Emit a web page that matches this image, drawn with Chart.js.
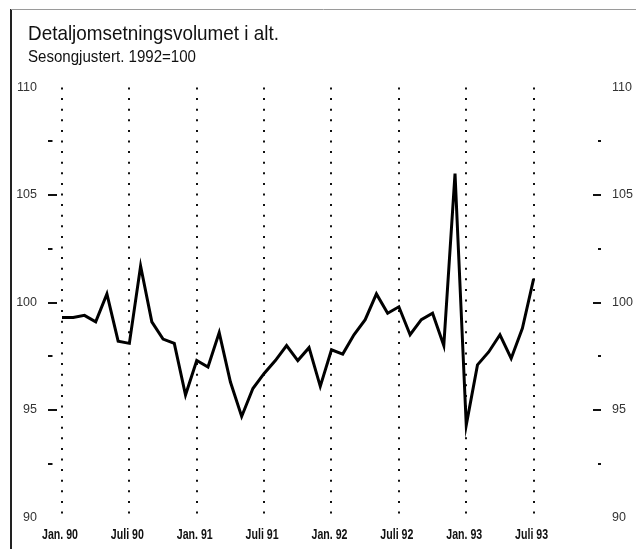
<!DOCTYPE html>
<html>
<head>
<meta charset="utf-8">
<script src="https://cdn.jsdelivr.net/npm/chart.js@4/dist/chart.umd.min.js"></script>
<style>
  html, body { margin: 0; padding: 0; background: #fff; }
  #wrap { width: 636px; height: 549px; position: relative; }
</style>
</head>
<body>
<div id="wrap"><canvas id="c" width="636" height="549"></canvas></div>
<script>
// ---- data ----
const titleText = "Detaljomsetningsvolumet i alt.";
const subtitleText = "Sesongjustert. 1992=100";

const months = [
  "Jan 90","Feb 90","Mar 90","Apr 90","Mai 90","Jun 90","Jul 90","Aug 90","Sep 90","Okt 90","Nov 90","Des 90",
  "Jan 91","Feb 91","Mar 91","Apr 91","Mai 91","Jun 91","Jul 91","Aug 91","Sep 91","Okt 91","Nov 91","Des 91",
  "Jan 92","Feb 92","Mar 92","Apr 92","Mai 92","Jun 92","Jul 92","Aug 92","Sep 92","Okt 92","Nov 92","Des 92",
  "Jan 93","Feb 93","Mar 93","Apr 93","Mai 93","Jun 93","Jul 93"
];
const volume = [
  99.3, 99.3, 99.4, 99.1, 100.4, 98.2, 98.1, 101.7, 99.1, 98.3, 98.1, 95.7,
  97.3, 97.0, 98.6, 96.3, 94.7, 96.0, 96.7, 97.3, 98.0, 97.3, 97.9, 96.1,
  97.8, 97.6, 98.5, 99.2, 100.4, 99.5, 99.8, 98.5, 99.2, 99.5, 98.0, 106.0,
  94.3, 97.1, 97.7, 98.5, 97.4, 98.8, 101.1
];
const xTickPositions = [0, 6, 12, 18, 24, 30, 36, 42];
const xTickLabels = ["Jan. 90","Juli 90","Jan. 91","Juli 91","Jan. 92","Juli 92","Jan. 93","Juli 93"];
const yTicks = [90, 95, 100, 105, 110];
const yMinorTicks = [92.5, 97.5, 102.5, 107.5];

const FONT = "'Liberation Sans', Arial, sans-serif";

const decorPlugin = {
  id: 'decor',
  afterDraw(chart) {
    const ctx = chart.ctx;
    const ca = chart.chartArea;
    const ys = chart.scales.y;
    const xs = chart.scales.x;
    ctx.save();
    // frame
    ctx.strokeStyle = '#222';
    ctx.lineWidth = 2;
    ctx.beginPath(); ctx.moveTo(11, 9); ctx.lineTo(11, 549); ctx.stroke();
    ctx.strokeStyle = '#9a9a9a';
    ctx.lineWidth = 1;
    ctx.beginPath(); ctx.moveTo(11, 9.5); ctx.lineTo(636, 9.5); ctx.stroke();
    // axis tick marks
    ctx.strokeStyle = '#111';
    ctx.lineWidth = 2;
    const all = yTicks.filter(v => v > 90 && v < 110).map(v => [v, true])
      .concat(yMinorTicks.map(v => [v, false]));
    all.forEach(([v, major]) => {
      const y = Math.round(ys.getPixelForValue(v));
      ctx.beginPath();
      ctx.moveTo(ca.left - 9, y);
      ctx.lineTo(major ? ca.left : ca.left - 4.5, y);
      ctx.stroke();
      ctx.beginPath();
      ctx.moveTo(major ? ca.right - 8 : ca.right - 3, y);
      ctx.lineTo(ca.right, y);
      ctx.stroke();
    });
    // condensed text helper
    ctx.fillStyle = '#111';
    const drawScaled = (txt, x, y, sx, align) => {
      const m = ctx.measureText(txt).width * sx;
      const x0 = align === 'center' ? x - m / 2 : x;
      ctx.save();
      ctx.translate(x0, y);
      ctx.scale(sx, 1);
      ctx.textAlign = 'left';
      ctx.fillText(txt, 0, 0);
      ctx.restore();
    };
    // titles
    ctx.textBaseline = 'alphabetic';
    ctx.font = "21px " + FONT;
    drawScaled(titleText, 28, 40, 251 / ctx.measureText(titleText).width, 'left');
    ctx.font = "16px " + FONT;
    drawScaled(subtitleText, 28, 62, 168 / ctx.measureText(subtitleText).width, 'left');
    // x tick labels (condensed bold)
    ctx.font = "bold 14px " + FONT;
    ctx.textBaseline = 'alphabetic';
    const sx = 36 / ctx.measureText(xTickLabels[0]).width;
    xTickPositions.forEach((p, k) => {
      drawScaled(xTickLabels[k], xs.getPixelForValue(p) - 2, 539, sx, 'center');
    });
    ctx.restore();
  }
};

new Chart(document.getElementById('c'), {
  type: 'line',
  data: {
    labels: months,
    datasets: [{
      data: volume.map((v, i) => ({ x: i, y: v })),
      borderColor: '#000',
      borderWidth: 3,
      pointRadius: 0,
      tension: 0,
      fill: false,
      borderJoinStyle: 'miter'
    }]
  },
  options: {
    responsive: false,
    animation: false,
    events: [],
    layout: { padding: { top: 87.5, left: 0, right: 0, bottom: 0 } },
    plugins: { legend: { display: false }, tooltip: { enabled: false }, title: { display: false } },
    scales: {
      x: {
        type: 'linear',
        min: -0.445,
        max: 48.0,
        afterBuildTicks: (s) => { s.ticks = xTickPositions.map(v => ({ value: v })); },
        afterFit: (s) => { s.height = 31.5; },
        border: { display: false, dash: [2, 8.6] },
        grid: {
          display: true,
          drawTicks: false,
          tickLength: 0,
          color: '#111',
          lineWidth: 2,
        },
        ticks: { display: false }
      },
      y: {
        position: 'left',
        min: 90, max: 110,
        afterBuildTicks: (s) => { s.ticks = yTicks.map(v => ({ value: v })); },
        afterFit: (s) => { s.width = 57; },
        border: { display: false },
        grid: { display: false, drawTicks: false, tickLength: 0 },
        ticks: { padding: 20, color: '#333', font: { family: FONT, size: 12.5 } }
      },
      y2: {
        position: 'right',
        min: 90, max: 110,
        afterBuildTicks: (s) => { s.ticks = yTicks.map(v => ({ value: v })); },
        afterFit: (s) => { s.width = 35; },
        border: { display: false },
        grid: { display: false, drawTicks: false, tickLength: 0 },
        ticks: { padding: 11, color: '#333', font: { family: FONT, size: 12.5 } }
      }
    }
  },
  plugins: [decorPlugin]
});
</script>
</body>
</html>
